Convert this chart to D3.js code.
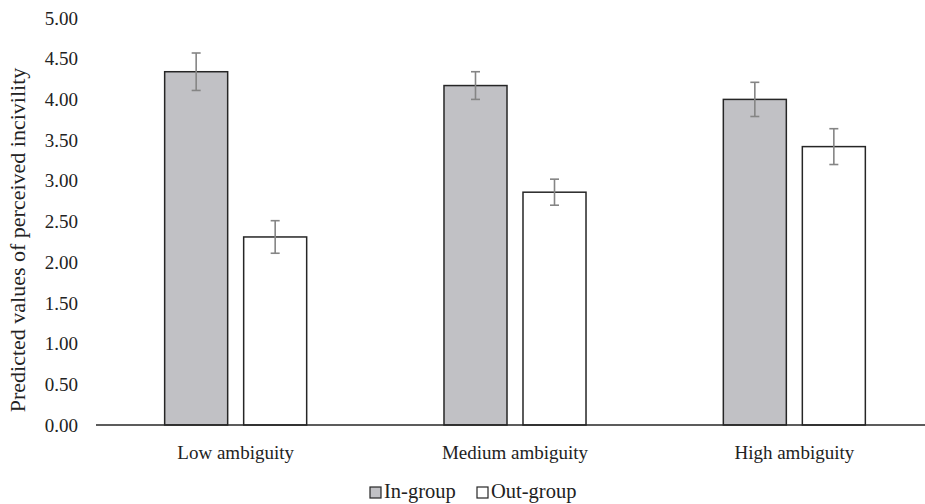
<!DOCTYPE html>
<html>
<head>
<meta charset="utf-8">
<script src="https://cdn.jsdelivr.net/npm/d3@7"></script>
<style>
  body { margin: 0; background: #fff; }
</style>
</head>
<body>
<div id="chart"></div>
<script>
// values
const categories = ["Low ambiguity", "Medium ambiguity", "High ambiguity"];
const groups = ["In-group", "Out-group"];
const inGroup = [4.34, 4.17, 4.00];
const outGroup = [2.31, 2.86, 3.42];
const inGroupErr = [0.23, 0.17, 0.21];
const outGroupErr = [0.20, 0.16, 0.22];
const yTicks = [0, 0.5, 1, 1.5, 2, 2.5, 3, 3.5, 4, 4.5, 5];

const W = 925, H = 504;
const margin = { top: 18, right: -9, bottom: 79, left: 96 };
const font = "'Liberation Serif', 'DejaVu Serif', serif";

const colors = { "In-group": "#c1c1c5", "Out-group": "#ffffff" };

const rows = [];
categories.forEach((c, i) => {
    rows.push({ cat: c, group: "In-group", value: inGroup[i], err: inGroupErr[i] });
    rows.push({ cat: c, group: "Out-group", value: outGroup[i], err: outGroupErr[i] });
});

const svg = d3.select("#chart").append("svg")
    .attr("width", W)
    .attr("height", H)
    .attr("font-family", font)
    .style("font-family", font);

const x0 = d3.scaleBand()
    .domain(categories)
    .range([margin.left, W - margin.right])
    .padding(0);

const x1 = d3.scaleBand()
    .domain(groups)
    .range([0, x0.bandwidth()])
    .paddingInner(0.2025)
    .paddingOuter(0.869);

const y = d3.scaleLinear()
    .domain([0, 5])
    .range([H - margin.bottom, margin.top]);

// y axis labels only (no line, no ticks)
svg.append("g")
    .selectAll("text")
    .data(yTicks)
    .join("text")
    .attr("x", 78)
    .attr("y", d => y(d))
    .attr("dy", "0.35em")
    .attr("text-anchor", "end")
    .attr("fill", "#222")
    .style("font-size", "19px")
    .text(d => d3.format(".2f")(d));

svg.append("text")
    .attr("transform", "translate(25,240) rotate(-90)")
    .attr("text-anchor", "middle")
    .attr("fill", "#222")
    .style("font-size", "22px")
    .text("Predicted values of perceived incivility");

// bars
svg.append("g")
    .selectAll("rect")
    .data(rows)
    .join("rect")
    .attr("x", d => x0(d.cat) + x1(d.group))
    .attr("y", d => y(d.value))
    .attr("width", x1.bandwidth())
    .attr("height", d => y(0) - y(d.value))
    .attr("fill", d => colors[d.group])
    .attr("stroke", "#262626")
    .attr("stroke-width", 1.5);

// error bars
const eb = svg.append("g")
    .attr("stroke", "#858585")
    .attr("stroke-width", 1.6);
rows.forEach(d => {
    const cx = x0(d.cat) + x1(d.group) + x1.bandwidth() / 2;
    eb.append("line")
        .attr("x1", cx).attr("x2", cx)
        .attr("y1", y(d.value + d.err)).attr("y2", y(d.value - d.err));
    [d.value + d.err, d.value - d.err].forEach(v => {
        eb.append("line")
            .attr("x1", cx - 4.5).attr("x2", cx + 4.5)
            .attr("y1", y(v)).attr("y2", y(v));
    });
});

// x axis baseline
svg.append("line")
    .attr("x1", margin.left)
    .attr("x2", W)
    .attr("y1", y(0))
    .attr("y2", y(0))
    .attr("stroke", "#262626")
    .attr("stroke-width", 1.5);

svg.append("g")
    .selectAll("text")
    .data(categories)
    .join("text")
    .attr("x", d => x0(d) + x0.bandwidth() / 2)
    .attr("y", 459)
    .attr("text-anchor", "middle")
    .attr("fill", "#222")
    .style("font-size", "19px")
    .text(d => d);

// legend
const legendX = [370, 477];
const legend = svg.append("g");
groups.forEach((g, i) => {
    legend.append("rect")
        .attr("x", legendX[i])
        .attr("y", 487)
        .attr("width", 11)
        .attr("height", 11)
        .attr("fill", colors[g])
        .attr("stroke", "#262626")
        .attr("stroke-width", 1.2);
    legend.append("text")
        .attr("x", legendX[i] + 14)
        .attr("y", 498)
        .attr("fill", "#222")
        .style("font-size", "20.5px")
        .text(g);
});
</script>
</body>
</html>
